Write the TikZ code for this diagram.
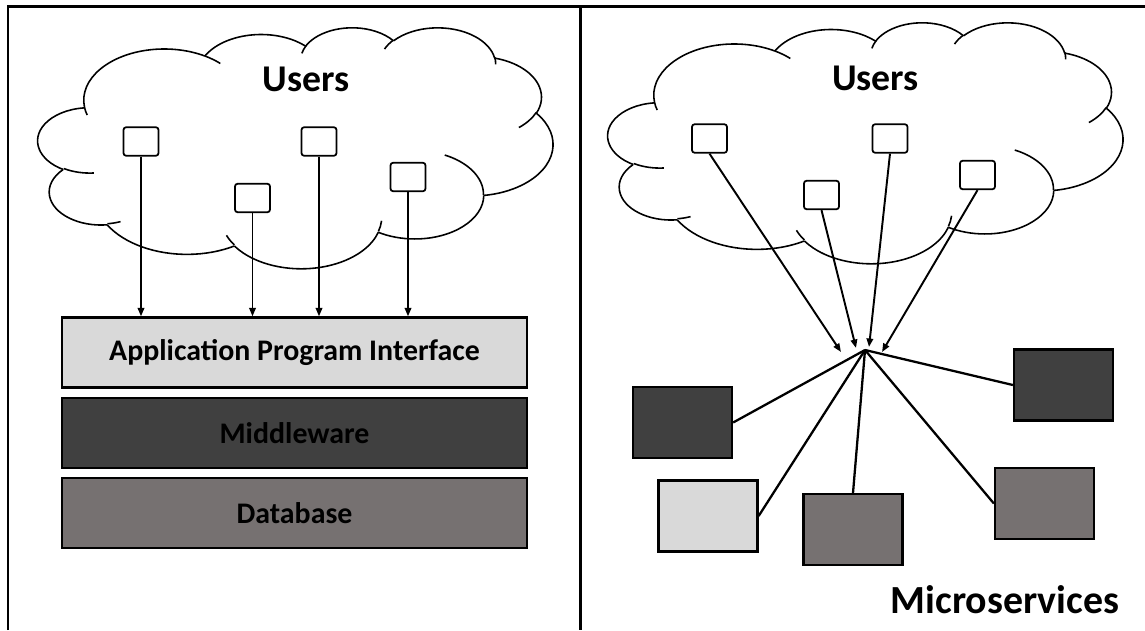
\documentclass[tikz,border=0pt]{standalone}
\usepackage{fontspec}
\setmainfont{Carlito}
\usetikzlibrary{arrows.meta,positioning}
\definecolor{layerlight}{RGB}{217,217,217}
\definecolor{layerdark}{RGB}{64,64,64}
\definecolor{layermid}{RGB}{118,113,113}

% cloud outline in a 43.2 x 43.2 box (arcs: x radius / y radius / start / sweep)
\newcommand\cloudshape{%
  \coordinate (cp) at (3.900,14.370);
  \foreach \cwr/\chr/\cst/\csw in {6.753/9.190/-190.4875/123.7805, 5.333/7.267/-144.1024/89.9452,
      4.365/5.945/-145.8079/99.7230, 4.857/6.595/-130.9861/117.2417, 5.333/7.273/-78.7089/109.0269,
      6.775/9.220/-46.2673/130.2690, 5.785/7.867/0.6250/114.0333, 6.752/9.215/22.4516/115.1726,
      7.720/10.543/66.2426/75.7110, 4.360/5.918/-274.9421/146.7356, 4.345/5.945/-246.8285/152.5189}{%
    \pgfmathsetmacro\cta{atan2(\cwr*sin(\cst),\chr*cos(\cst))}%
    \pgfmathsetmacro\ctb{atan2(\cwr*sin(\cst+\csw),\chr*cos(\cst+\csw))}%
    \pgfmathsetmacro\ctb{\cta+Mod(\ctb-\cta,360)}%
    \draw[cloudline] (cp) arc[start angle=\cta, end angle=\ctb, x radius=\cwr, y radius=\chr] coordinate (cp);
  }%
  % inner strokes
  \foreach \cpx/\cpy/\cwr/\chr/\cst/\csw in {4.693/26.177/4.345/5.945/86.7420/26.4295,
      6.928/34.899/4.360/5.918/73.6105/11.4475, 16.478/39.090/6.752/9.215/137.6242/14.0811,
      28.827/34.751/6.752/9.215/6.4533/15.9984, 34.129/22.954/5.785/7.867/-70.2924/70.9174,
      41.798/15.354/5.333/7.273/30.3180/27.7515, 38.324/5.426/4.857/6.595/-13.7443/14.8589,
      29.078/3.952/4.857/6.595/-149.1815/18.1954, 22.141/4.720/4.365/5.945/-163.4943/17.6864,
      14.000/5.192/6.753/9.190/-66.7070/12.3194, 4.127/15.789/6.753/9.190/157.6544/11.8582}{%
    \pgfmathsetmacro\cta{atan2(\cwr*sin(\cst),\chr*cos(\cst))}%
    \pgfmathsetmacro\ctb{atan2(\cwr*sin(\cst+\csw),\chr*cos(\cst+\csw))}%
    \pgfmathsetmacro\ctb{\cta+Mod(\ctb-\cta,360)}%
    \draw[cloudline] (\cpx,\cpy) arc[start angle=\cta, end angle=\ctb, x radius=\cwr, y radius=\chr];
  }%
}

\begin{document}
\begin{tikzpicture}[x=0.02cm, y=-0.02cm,
    frame/.style={line width=1.7pt},
    cloudline/.style={line width=0.9pt},
    userbox/.style={draw, fill=white, rounded corners=1.5pt, line width=1pt,
      minimum width=0.7cm, minimum height=0.57cm, inner sep=0pt},
    layer/.style={draw, line width=1.3pt, minimum width=9.3cm, minimum height=1.4cm,
      inner sep=0pt, font=\fontsize{17}{20}\selectfont\bfseries},
    service/.style={draw, line width=1.3pt, minimum width=1.98cm, minimum height=1.42cm, inner sep=0pt},
    arrow/.style={-{Triangle[length=1.7mm,width=1.3mm]}, line width=1.1pt},
    link/.style={line width=1.3pt},
    title/.style={anchor=base, font=\fontsize{21.5}{24}\selectfont\bfseries}]
  \useasboundingbox (0,0) rectangle (1145,630);
  \draw[frame] (8,630) -- (8,6) -- (1145,6);
  \draw[frame] (580,6) -- (580,630);

  % monolith
  \begin{scope}[shift={(38,27)}, x=0.2384cm, y=-0.11155cm]
    \cloudshape
  \end{scope}
  \node[title] (usersl) at (306,91) {Users};
  \node[userbox] (u1) at (141,141.5) {};
  \node[userbox] (u2) at (252.5,198) {};
  \node[userbox] (u3) at (319,141.5) {};
  \node[userbox] (u4) at (408,177) {};
  \node[layer, fill=layerlight] (api) at (294.5,352.5) {Application Program Interface};
  \node[layer, fill=layerdark, below=0.16cm of api] (mid) {Middleware};
  \node[layer, fill=layermid, below=0.16cm of mid] (db) {Database};
  \foreach \u in {u1,u2,u3,u4}
    \draw[arrow] (\u.south) -- (\u.south |- api.north);

  % microservices
  \begin{scope}[shift={(608,22)}, x=0.2384cm, y=-0.11155cm]
    \cloudshape
  \end{scope}
  \node[title] (usersr) at (875.5,90) {Users};
  \node[userbox] (ru1) at (709.5,138.5) {};
  \node[userbox] (ru2) at (821.5,195) {};
  \node[userbox] (ru3) at (890,138.5) {};
  \node[userbox] (ru4) at (977.5,175) {};
  \coordinate (hub) at (865,350);
  \coordinate (t1) at (841,352);
  \coordinate (t2) at (856,348);
  \coordinate (t3) at (869,347);
  \coordinate (t4) at (882,352);
  \draw[arrow] (ru1.south) -- (t1);
  \draw[arrow] (ru2.south) -- (t2);
  \draw[arrow] (ru3.south) -- (t3);
  \draw[arrow] (ru4.south) -- (t4);
  \node[service, fill=layerdark] (ms1) at (682.5,422.5) {};
  \node[service, fill=layerlight] (ms2) at (708,516) {};
  \node[service, fill=layermid] (ms3) at (853,529.5) {};
  \node[service, fill=layermid] (ms4) at (1044.5,503.5) {};
  \node[service, fill=layerdark] (ms5) at (1063.5,385) {};
  \draw[link] (hub) -- (ms1.east);
  \draw[link] (hub) -- (ms2.east);
  \draw[link] (hub) -- (ms3.north);
  \draw[link] (hub) -- (ms4.west);
  \draw[link] (hub) -- (ms5.west);
  \node[anchor=base, font=\fontsize{22.7}{26}\selectfont\bfseries] (micro) at (1005,613) {Microservices};
\end{tikzpicture}
\end{document}
